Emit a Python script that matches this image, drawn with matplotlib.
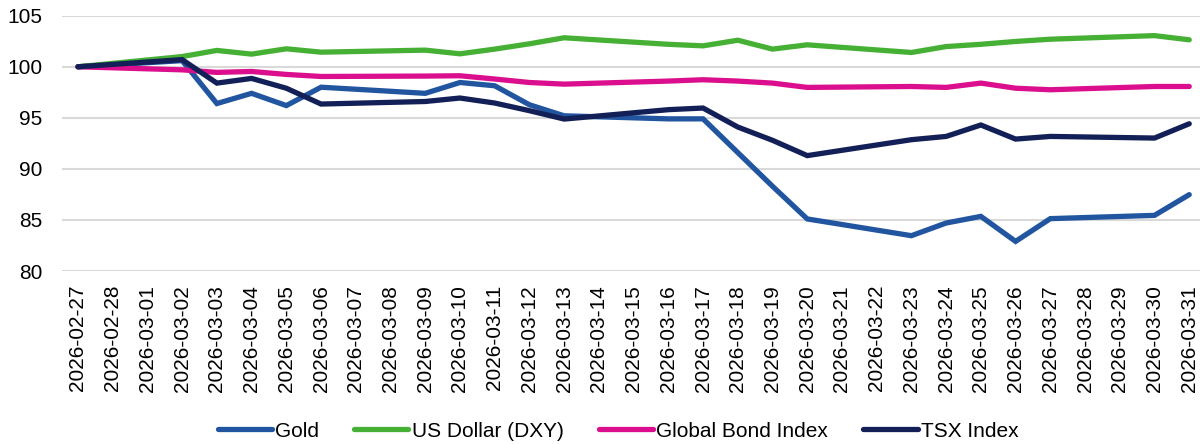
import numpy as np
import matplotlib
matplotlib.use('Agg')
import matplotlib.pyplot as plt

nan = np.nan

dates = ['2026-02-27', '2026-02-28', '2026-03-01', '2026-03-02', '2026-03-03',
         '2026-03-04', '2026-03-05', '2026-03-06', '2026-03-07', '2026-03-08',
         '2026-03-09', '2026-03-10', '2026-03-11', '2026-03-12', '2026-03-13',
         '2026-03-14', '2026-03-15', '2026-03-16', '2026-03-17', '2026-03-18',
         '2026-03-19', '2026-03-20', '2026-03-21', '2026-03-22', '2026-03-23',
         '2026-03-24', '2026-03-25', '2026-03-26', '2026-03-27', '2026-03-28',
         '2026-03-29', '2026-03-30', '2026-03-31']

# weekends have no data (nan), the lines just join the trading days
gold = [100, nan, nan, 100.6, 96.4, 97.4, 96.2, 98.0, nan, nan,
        97.4, 98.46, 98.14, 96.28, 95.2, nan, nan, 94.9, 94.9, 91.6,
        88.3, 85.1, nan, nan, 83.46, 84.7, 85.35, 82.9, 85.13, nan,
        nan, 85.45, 87.48]
usd = [100, nan, nan, 101.0, 101.6, 101.24, 101.76, 101.43, nan, nan,
       101.63, 101.27, 101.73, 102.25, 102.84, nan, nan, 102.2, 102.05, 102.6,
       101.73, 102.15, nan, nan, 101.4, 101.98, 102.2, 102.48, 102.7, nan,
       nan, 103.05, 102.64]
bond = [100, nan, nan, 99.7, 99.45, 99.54, 99.25, 99.05, nan, nan,
        99.09, 99.12, 98.8, 98.46, 98.3, nan, nan, 98.6, 98.73, 98.6,
        98.4, 97.98, nan, nan, 98.07, 97.98, 98.4, 97.9, 97.75, nan,
        nan, 98.07, 98.07]
tsx = [100, nan, nan, 100.7, 98.4, 98.86, 97.9, 96.35, nan, nan,
       96.6, 96.94, 96.45, 95.7, 94.88, nan, nan, 95.8, 95.96, 94.1,
       92.8, 91.3, nan, nan, 92.86, 93.18, 94.3, 92.92, 93.18, nan,
       nan, 93.02, 94.42]

series = [('Gold', gold, '#2155A0'),
          ('US Dollar (DXY)', usd, '#46B035'),
          ('Global Bond Index', bond, '#DB0F8E'),
          ('TSX Index', tsx, '#131F57')]

plt.rcParams['font.family'] = ['Liberation Sans', 'DejaVu Sans']

fig = plt.figure(figsize=(12, 4.44), dpi=100)
ax = fig.add_axes([62/1200, 0.3896, 1 - 62/1200, 0.5750])

x = np.arange(len(dates))
for name, vals, col in series:
    v = np.array(vals, dtype=float)
    ok = ~np.isnan(v)
    ax.plot(x[ok], v[ok], color=col, linewidth=3.8, label=name,
            solid_capstyle='round', solid_joinstyle='miter')

ax.set_xlim(-0.46, 32.31)
ax.set_ylim(80, 105)
ax.set_yticks([80, 85, 90, 95, 100, 105])
ax.set_xticks(x)
ax.set_xticklabels(dates, rotation=90)
ax.tick_params(axis='x', length=0, pad=10, labelsize=15, colors='black')
ax.tick_params(axis='y', length=0, pad=14, labelsize=15, colors='black')

ax.grid(axis='y', color='#d9d9d9', linewidth=1.5)
ax.set_axisbelow(True)
for s in ax.spines.values():
    s.set_visible(False)

fig.legend(loc='center', bbox_to_anchor=(0.515, 0.029), ncol=4, frameon=False,
           fontsize=15, handlelength=2.6, handletextpad=0.15, columnspacing=1.7,
           borderpad=0, borderaxespad=0)

fig.savefig('out.png', dpi=100)
